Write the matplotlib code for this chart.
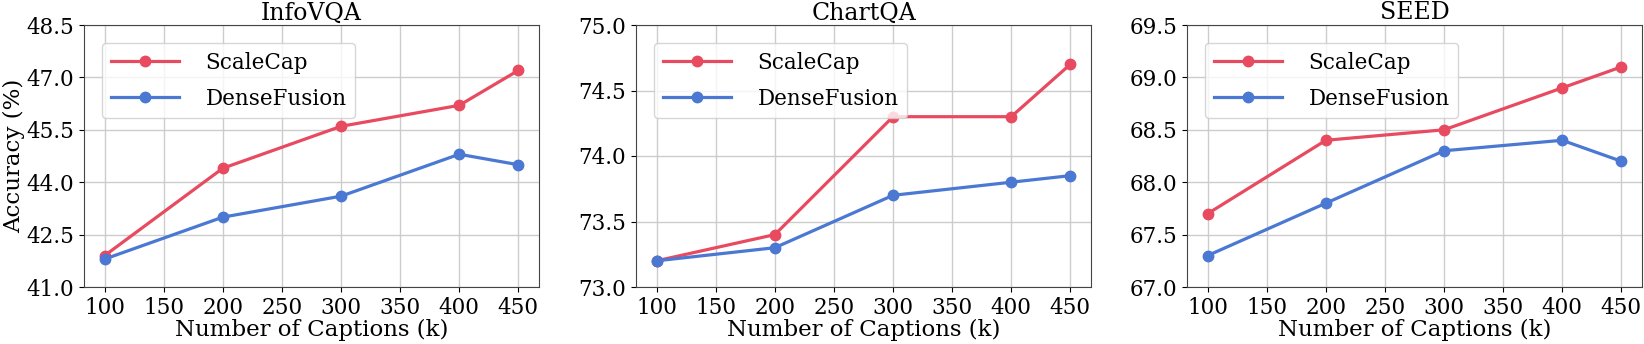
import numpy as np
import matplotlib
matplotlib.use("Agg")
import matplotlib.pyplot as plt

# ─── DATA ──────────────────────────────────────────────────────────────────────
captions = [100, 200, 300, 400, 450]

info_scalecap  = [41.9, 44.4, 45.6, 46.2, 47.2]
info_dense     = [41.8, 43.0, 43.6, 44.8, 44.5]
chart_scalecap = [73.2, 73.4, 74.3, 74.3, 74.7]
chart_dense    = [73.2, 73.3, 73.7, 73.8, 73.85]
seed_scalecap  = [67.7, 68.4, 68.5, 68.9, 69.1]
seed_dense     = [67.3, 67.8, 68.3, 68.4, 68.2]

titles  = ["InfoVQA", "ChartQA", "SEED"]
yticks  = [np.arange(41.0, 48.51, 1.5),
           np.arange(73.0, 75.01, 0.5),
           np.arange(67.0, 69.51, 0.5)]
xticks  = [100, 150, 200, 250, 300, 350, 400, 450]

RED  = "#e84a5f"
BLUE = "#4a78d2"
# ────────────────────────────────────────────────────────────────────────────────

plt.rcParams['font.family'] = 'DejaVu Serif'

fig = plt.figure(figsize=(16.44, 3.44), dpi=100)
lefts = [84, 636, 1187]
panels = [(info_scalecap, info_dense),
          (chart_scalecap, chart_dense),
          (seed_scalecap, seed_dense)]

for i, (sc, df) in enumerate(panels):
    ax = fig.add_axes([lefts[i]/1644, 1 - 287/344, 455/1644, 262/344])
    ax.plot(captions, sc, marker='o', lw=2.3, ms=7.5, color=RED, label='ScaleCap')
    ax.plot(captions, df, marker='o', lw=2.3, ms=7.5, color=BLUE, label='DenseFusion')
    ax.set_xticks(xticks)
    ax.set_yticks(yticks[i])
    ax.set_ylim(yticks[i][0], yticks[i][-1])
    ax.yaxis.set_major_formatter(matplotlib.ticker.FormatStrFormatter('%.1f'))
    ax.tick_params(labelsize=15.5, colors='black')
    for s in ax.spines.values():
        s.set_color('#444444')
    ax.grid(True, color='#cccccc', lw=1)
    ax.set_axisbelow(True)
    ax.set_title(titles[i], fontsize=17, pad=4)
    ax.set_xlabel("Number of Captions (k)", fontsize=16.5, labelpad=0)
    if i == 0:
        ax.set_ylabel("Accuracy (%)", fontsize=16.5, labelpad=1)
    ax.legend(loc='upper left', fontsize=15.5, handlelength=3.15,
              handletextpad=1.25, labelspacing=0.65, borderaxespad=0.84)

fig.savefig("out.png", dpi=100)
